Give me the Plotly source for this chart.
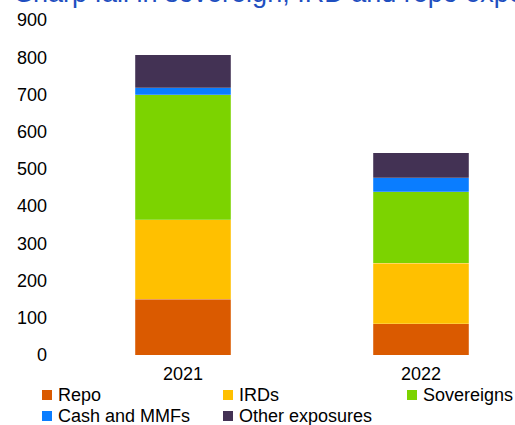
import plotly.graph_objects as go

years = ["2021", "2022"]
series_names = ["Repo", "IRDs", "Sovereigns", "Cash and MMFs", "Other exposures"]
repo = [150, 84]
irds = [213, 163]
sovereigns = [336, 191]
cash_mmfs = [19, 38]
other = [88, 67]
colors = ["#DA5A00", "#FFC000", "#7CD300", "#0A7DFF", "#433254"]
y_ticks = [0, 100, 200, 300, 400, 500, 600, 700, 800, 900]
title_text = "Sharp fall in sovereign, IRD and repo exposures"

values = [repo, irds, sovereigns, cash_mmfs, other]
FONT = "Arial, Liberation Sans, sans-serif"

W, H = 515, 425
ML, MR, MT, MB = 55, 5, 20, 70
PW, PH = W - ML - MR, H - MT - MB


def px_x(x):
    return (x - ML) / PW


def px_y(y):
    return (H - MB - y) / PH


fig = go.Figure()
for name, vals, col in zip(series_names, values, colors):
    fig.add_trace(go.Bar(
        x=years, y=vals, name=name,
        marker=dict(color=col, line=dict(color="rgba(255,255,255,0.35)", width=0.6)),
        width=0.403, showlegend=False,
    ))

# custom legend (two rows) built from series names and colours
legend_slots = [(42, 395), (223, 395), (407, 395), (42, 416), (223, 416)]
shapes = []
annotations = []
for (lx, ly), name, col in zip(legend_slots, series_names, colors):
    shapes.append(dict(
        type="rect", xref="paper", yref="paper",
        x0=px_x(lx), x1=px_x(lx + 10), y0=px_y(ly - 5), y1=px_y(ly + 5),
        fillcolor=col, line=dict(width=0),
    ))
    annotations.append(dict(
        text=name, xref="paper", yref="paper", x=px_x(lx + 14), y=px_y(ly),
        xanchor="left", yanchor="middle", showarrow=False,
        font=dict(family=FONT, size=18, color="#000000"),
    ))

annotations.append(dict(
    text=title_text, xref="paper", yref="paper", x=px_x(13), y=px_y(-7),
    xanchor="left", yanchor="middle", showarrow=False,
    font=dict(family=FONT, size=27, color="#1F4FC0"),
))

fig.update_layout(
    width=W, height=H,
    barmode="stack",
    paper_bgcolor="white", plot_bgcolor="white",
    margin=dict(l=ML, r=MR, t=MT, b=MB, autoexpand=False),
    font=dict(family=FONT, size=18, color="#000000"),
    xaxis=dict(
        range=[-0.538, 1.374], showgrid=False, showline=False, zeroline=False,
        ticks="", ticklabelstandoff=6, tickfont=dict(size=18), automargin=False,
    ),
    yaxis=dict(
        range=[0, 900], tickvals=y_ticks, showgrid=False, showline=False,
        zeroline=False, ticks="", ticklabelstandoff=7, tickfont=dict(size=18),
        automargin=False,
    ),
    shapes=shapes,
    annotations=annotations,
    showlegend=False,
)

fig.write_html(
    "out.html",
    config={"displayModeBar": False},
    post_script="document.body.style.margin='0';document.body.style.overflow='hidden';",
)
